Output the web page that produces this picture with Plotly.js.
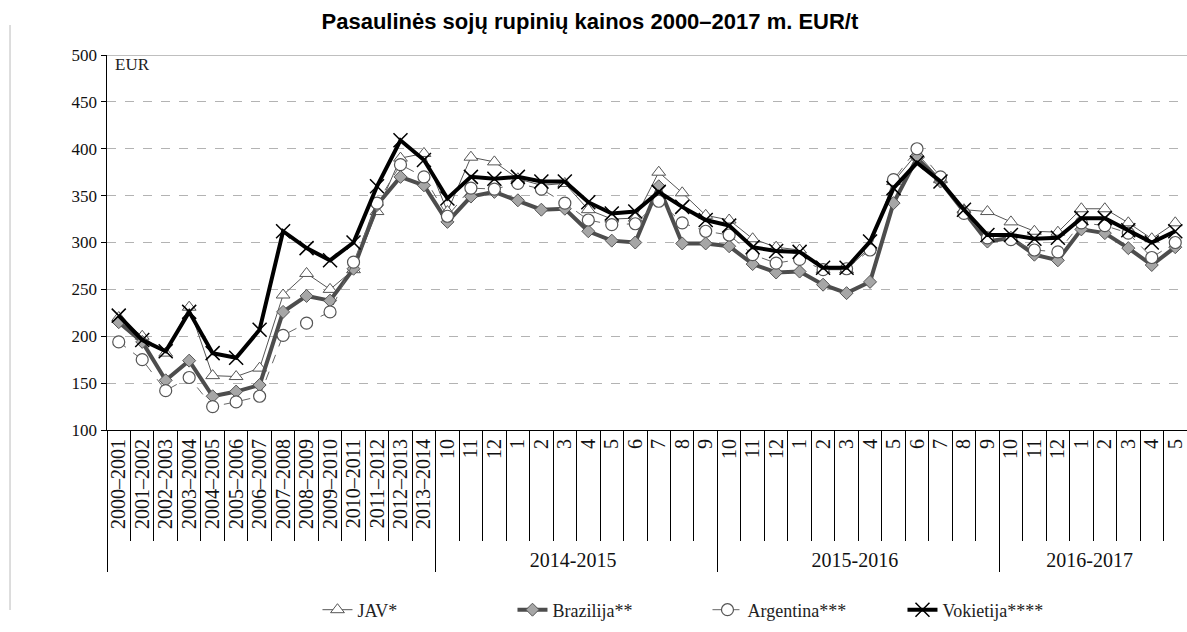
<!DOCTYPE html>
<html>
<head>
<meta charset="utf-8">
<script src="https://cdn.plot.ly/plotly-3.0.1.min.js"></script>
<style>html,body{margin:0;padding:0;background:#fff;}#chart{width:1187px;height:632px;}</style>
</head>
<body>
<div id="chart"></div>
<script>
// Category labels (first level) and season groups (second level)
const categories = [
  "2000–2001","2001–2002","2002–2003","2003–2004","2004–2005","2005–2006","2006–2007",
  "2007–2008","2008–2009","2009–2010","2010–2011","2011–2012","2012–2013","2013–2014",
  "10","11","12","1","2","3","4","5","6","7","8","9",
  "10","11","12","1","2","3","4","5","6","7","8","9",
  "10","11","12","1","2","3","4","5"
];
const groups = [
  " "," "," "," "," "," "," "," "," "," "," "," "," "," ",
  "2014-2015","2014-2015","2014-2015","2014-2015","2014-2015","2014-2015",
  "2014-2015","2014-2015","2014-2015","2014-2015","2014-2015","2014-2015",
  "2015-2016","2015-2016","2015-2016","2015-2016","2015-2016","2015-2016",
  "2015-2016","2015-2016","2015-2016","2015-2016","2015-2016","2015-2016",
  "2016-2017","2016-2017","2016-2017","2016-2017","2016-2017","2016-2017","2016-2017","2016-2017"
];

// Prices, EUR/t
const jav = [220,200,182,231,158,157,166,244,267,250,271,333,390,395,
  333,391,386,368,361,363,335,325,326,375,353,329,
  324,304,295,292,271,271,295,365,395,367,335,333,
  322,312,311,336,336,321,304,321];
const brazilija = [215,194,153,174,136,141,148,226,243,238,272,340,370,361,
  322,349,354,345,335,336,312,302,300,360,299,299,
  296,277,268,269,255,246,258,342,390,365,333,301,
  305,287,281,314,310,294,276,295];
const argentina = [194,175,142,156,125,130,136,201,214,226,279,342,383,370,
  328,358,357,363,357,342,324,319,320,344,321,312,
  308,287,278,282,271,272,292,367,400,370,331,305,
  303,292,290,321,318,310,284,300];
const vokietija = [222,196,184,226,182,177,207,312,294,281,300,360,409,388,
  347,370,368,370,365,365,343,331,333,354,338,324,
  318,295,291,290,273,273,301,358,385,365,335,308,
  308,304,305,326,326,313,300,312];

const seriesNames = ["JAV*","Brazilija**","Argentina***","Vokietija****"];
const yTicks = [100,150,200,250,300,350,400,450,500];

const x = [groups, categories];
const serif = "Liberation Serif, Times New Roman, serif";

const traces = [
  {x:x, y:jav, name:seriesNames[0], type:"scatter", mode:"lines+markers",
   line:{color:"#555", width:1},
   marker:{symbol:"triangle-up", size:12, color:"#fff", line:{color:"#555", width:1}}},
  {x:x, y:brazilija, name:seriesNames[1], type:"scatter", mode:"lines+markers",
   line:{color:"#4d4d4d", width:4},
   marker:{symbol:"diamond", size:10, color:"#a6a6a6", line:{color:"#555", width:1}}},
  {x:x, y:argentina, name:seriesNames[2], type:"scatter", mode:"lines+markers",
   line:{color:"#666", width:1, dash:"dash"},
   marker:{symbol:"circle", size:12, color:"#fff", line:{color:"#555", width:1.2}}},
  {x:x, y:vokietija, name:seriesNames[3], type:"scatter", mode:"lines+markers",
   line:{color:"#000", width:4},
   marker:{symbol:"x-thin", size:14, color:"#000", line:{color:"#000", width:1.5}}}
];

const layout = {
  width:1187, height:632,
  margin:{l:107, r:0, t:55, b:202},
  paper_bgcolor:"#fff", plot_bgcolor:"#fff",
  title:{text:"<b>Pasaulinės sojų rupinių kainos 2000–2017 m. EUR/t</b>",
    font:{family:"Liberation Sans Narrow, Arial Narrow, Liberation Sans, Arial, sans-serif", size:22, color:"#000"},
    x:0.497, xref:"container", y:0.966, yref:"container", yanchor:"middle"},
  showlegend:true,
  legend:{orientation:"h", x:0.556, xanchor:"center", y:-0.48, yanchor:"middle",
    font:{family:serif, size:18, color:"#222"}, entrywidth:150, entrywidthmode:"pixels",
    bgcolor:"rgba(0,0,0,0)"},
  xaxis:{type:"multicategory", range:[-0.5,45.5],
    tickmode:"linear", tick0:0, dtick:1,
    showline:true, linecolor:"#000", linewidth:1,
    ticks:"outside", tickson:"boundaries", ticklen:110, tickcolor:"#000", tickwidth:1,
    tickangle:-90, tickfont:{family:serif, size:20, color:"#111"},
    showdividers:true, dividercolor:"#000", dividerwidth:1,
    showgrid:false, zeroline:false},
  yaxis:{range:[100,500], tickvals:yTicks, ticktext:yTicks.map(String),
    showline:true, linecolor:"#000", linewidth:1.5,
    ticks:"outside", ticklen:5, tickcolor:"#000",
    tickfont:{family:serif, size:17, color:"#111"},
    showgrid:true, gridcolor:"#b3b3b3", griddash:"dash", gridwidth:1, zeroline:false},
  shapes:[
    {type:"line", xref:"paper", yref:"y", x0:0, x1:1, y0:500, y1:500, line:{color:"#aaa", width:1.5}},
    {type:"line", xref:"paper", yref:"paper", x0:-0.0898, x1:-0.0898, y0:1.08, y1:-0.48, line:{color:"#bbb", width:1}}
  ],
  annotations:[
    {text:"EUR", xref:"paper", yref:"paper", x:0.006, y:1.005, xanchor:"left", yanchor:"top",
     showarrow:false, font:{family:serif, size:17, color:"#222"}}
  ]
};

Plotly.newPlot("chart", traces, layout, {displayModeBar:false, staticPlot:true});
</script>
</body>
</html>
